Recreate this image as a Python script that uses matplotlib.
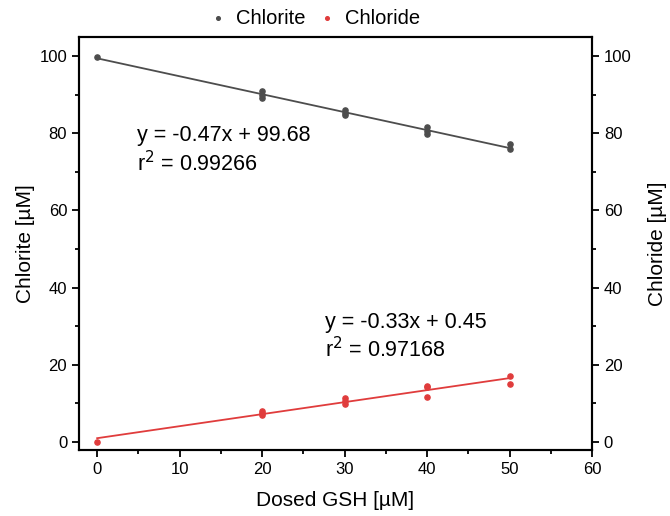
import numpy as np
import matplotlib.pyplot as plt
from matplotlib.ticker import MultipleLocator

plt.rcParams['font.family'] = ['Liberation Sans', 'DejaVu Sans']

# measured points (µM)
chlorite_x = [0, 20, 20, 20, 30, 30, 30, 40, 40, 40, 50, 50]
chlorite_y = [99.8, 91.0, 90.0, 89.0, 86.0, 85.2, 84.6, 81.5, 80.6, 79.8, 77.2, 75.8]
chloride_x = [0, 20, 20, 20, 30, 30, 30, 40, 40, 40, 50, 50]
chloride_y = [0.0, 8.0, 7.5, 7.0, 11.3, 10.6, 9.9, 14.6, 14.1, 11.7, 17.1, 14.9]

chlorite_eq = ["y = -0.47x + 99.68", "r$^2$ = 0.99266"]
chloride_eq = ["y = -0.33x + 0.45", "r$^2$ = 0.97168"]

grey = '#4d4d4d'
red = '#e03c3c'

fig = plt.figure(figsize=(6.7, 5.16), dpi=100)
ax = fig.add_axes([79/670, 1 - 450/516, (592-79)/670, (450-37)/516])

ax.scatter(chlorite_x, chlorite_y, s=14, color=grey, zorder=3, label='Chlorite')
ax.scatter(chloride_x, chloride_y, s=14, color=red, zorder=3, label='Chloride')

xf = np.array([0, 50])
p1 = np.polyfit(chlorite_x, chlorite_y, 1)
p2 = np.polyfit(chloride_x, chloride_y, 1)
ax.plot(xf, np.polyval(p1, xf), color=grey, lw=1.3)
ax.plot(xf, np.polyval(p2, xf), color=red, lw=1.3)

ax.set_xlim(-2.2, 60)
ax.set_ylim(-2.1, 104.9)
ax.xaxis.set_major_locator(MultipleLocator(10))
ax.xaxis.set_minor_locator(MultipleLocator(5))
ax.yaxis.set_major_locator(MultipleLocator(20))
ax.yaxis.set_minor_locator(MultipleLocator(10))

ax2 = ax.twinx()
ax2.set_ylim(ax.get_ylim())
ax2.yaxis.set_major_locator(MultipleLocator(20))
ax2.yaxis.set_minor_locator(MultipleLocator(10))

for a in (ax, ax2):
    for s in a.spines.values():
        s.set_linewidth(1.5)
    a.tick_params(which='major', direction='out', length=5, width=1.3, labelsize=12)
    a.tick_params(which='minor', direction='out', length=3, width=1.3)

ax.set_xlabel("Dosed GSH [µM]", fontsize=15, labelpad=10)
ax.set_ylabel("Chlorite [µM]", fontsize=15, labelpad=3)
ax2.set_ylabel("Chloride [µM]", fontsize=15, labelpad=12)

ax.text(4.8, 79.5, chlorite_eq[0], fontsize=15.5, va='center')
ax.text(4.8, 72.2, chlorite_eq[1], fontsize=15.5, va='center')
ax.text(27.6, 31.0, chloride_eq[0], fontsize=15.5, va='center')
ax.text(27.6, 23.8, chloride_eq[1], fontsize=15.5, va='center')

fig.legend(loc='center', bbox_to_anchor=(313/670, 1 - 18/516), ncol=2, frameon=False,
           fontsize=14.5, markerscale=0.7, handlelength=1.2, handletextpad=0.3,
           columnspacing=0.5)

fig.savefig('out.png', dpi=100)
